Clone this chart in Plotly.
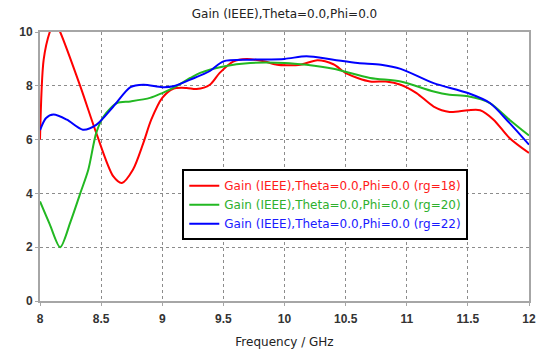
import plotly.graph_objects as go

# Frequency (GHz) and gain (dB)
freq_rg18 = [8.0, 8.03, 8.08, 8.12, 8.165, 8.33, 8.46, 8.6, 8.67, 8.76, 8.845, 8.91, 9.0, 9.09, 9.2,
             9.28, 9.39, 9.47, 9.58, 9.69, 9.83, 9.94, 10.02, 10.13, 10.27, 10.4, 10.51, 10.7, 10.83,
             10.95, 11.08, 11.22, 11.35, 11.5, 11.6, 11.71, 11.84, 12.0]
gain_rg18 = [6.0, 8.97, 10.0, 10.4, 10.0, 7.98, 6.25, 4.63, 4.39, 4.88, 5.87, 6.74, 7.55, 7.89, 7.92,
             7.88, 8.04, 8.48, 8.9, 9.0, 8.91, 8.78, 8.76, 8.78, 8.95, 8.8, 8.45, 8.16, 8.16,
             8.04, 7.73, 7.23, 7.03, 7.09, 7.09, 6.74, 6.06, 5.5]

freq_rg20 = [8.0, 8.08, 8.165, 8.25, 8.33, 8.395, 8.46, 8.52, 8.63, 8.74, 8.9, 9.0, 9.09, 9.23, 9.31,
             9.5, 9.72, 10.0, 10.18, 10.4, 10.7, 10.95, 11.22, 11.35, 11.5, 11.68, 11.84, 12.0]
gain_rg20 = [3.7, 2.85, 2.0, 2.95, 4.01, 4.88, 6.25, 6.86, 7.36, 7.42, 7.55, 7.73, 7.92, 8.29, 8.48,
             8.72, 8.85, 8.85, 8.78, 8.63, 8.29, 8.16, 7.79, 7.67, 7.61, 7.36, 6.74, 6.15]

freq_rg22 = [8.0, 8.05, 8.11, 8.22, 8.35, 8.46, 8.6, 8.74, 8.845, 9.0, 9.09, 9.23, 9.39, 9.5, 9.72,
             10.0, 10.18, 10.4, 10.6, 10.79, 10.95, 11.22, 11.5, 11.68, 11.84, 12.0]
gain_rg22 = [6.35, 6.8, 6.93, 6.74, 6.37, 6.55, 7.23, 7.95, 8.04, 7.95, 7.98, 8.23, 8.55, 8.91, 8.97,
             9.0, 9.1, 8.97, 8.85, 8.78, 8.63, 8.1, 7.73, 7.36, 6.62, 5.81]

x_ticks = [8, 8.5, 9, 9.5, 10, 10.5, 11, 11.5, 12]
x_tick_labels = ["8", "8.5", "9", "9.5", "10", "10.5", "11", "11.5", "12"]
y_ticks = [0, 2, 4, 6, 8, 10]

series = [
    (freq_rg18, gain_rg18, "Gain (IEEE),Theta=0.0,Phi=0.0 (rg=18)", "#ff0000", "#ff1a1a"),
    (freq_rg20, gain_rg20, "Gain (IEEE),Theta=0.0,Phi=0.0 (rg=20)", "#22b822", "#2eb02e"),
    (freq_rg22, gain_rg22, "Gain (IEEE),Theta=0.0,Phi=0.0 (rg=22)", "#0000ff", "#1a1aff"),
]

fig = go.Figure()
for xs, ys, name, col, tcol in series:
    fig.add_trace(go.Scatter(
        x=xs, y=ys, mode="lines",
        line=dict(color=col, width=2, shape="spline", smoothing=0.8),
        name=f"<span style='color:{tcol}'>{name}</span>",
    ))

font_main = "DejaVu Sans"
axis_common = dict(
    showline=True, linecolor="#a6a6a6", linewidth=2, mirror=True,
    showgrid=True, gridcolor="#8c8c8c", griddash="dot", gridwidth=1,
    ticks="outside", ticklen=3, tickcolor="#a6a6a6",
    tickfont=dict(family="Liberation Sans", size=12, color="#333333", weight="bold"),
    zeroline=False, automargin=False,
)

fig.update_layout(
    width=539, height=352,
    margin=dict(l=40, r=10, t=32, b=51, autoexpand=False),
    paper_bgcolor="white", plot_bgcolor="white",
    font=dict(family=font_main, size=12, color="#222222"),
    title=dict(text="Gain (IEEE),Theta=0.0,Phi=0.0", xref="paper", x=0.5, xanchor="center",
               yref="container", y=1 - 14 / 352, yanchor="middle",
               font=dict(family=font_main, size=12, color="#222222")),
    xaxis=dict(range=[8, 12], tickvals=x_ticks, ticktext=x_tick_labels,
               ticklabelstandoff=3,
               title=dict(text="Frequency / GHz", standoff=12,
                          font=dict(family=font_main, size=12, color="#222222")),
               **axis_common),
    yaxis=dict(range=[0, 10], tickvals=y_ticks, **axis_common),
    legend=dict(x=0.291, y=0.49, xanchor="left", yanchor="top",
                bgcolor="white", bordercolor="#000000", borderwidth=2,
                font=dict(family=font_main, size=12), tracegroupgap=0),
    showlegend=True,
)

fig.write_html("out.html")
